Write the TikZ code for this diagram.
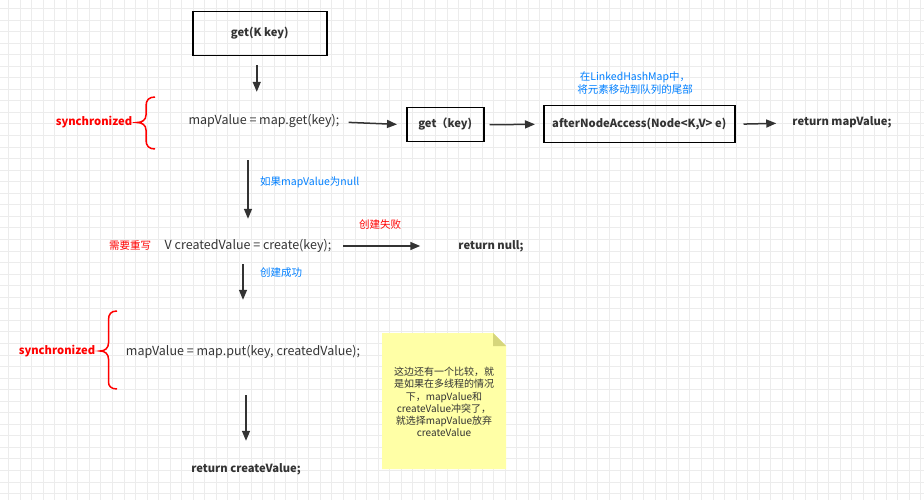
\documentclass[tikz,border=0pt]{standalone}
\usepackage{fontspec}
\setmainfont{Noto Sans CJK SC}
\usetikzlibrary{arrows.meta}
\definecolor{txtgray}{RGB}{51,51,51}
\definecolor{cmtblue}{RGB}{0,127,255}
\definecolor{syncred}{RGB}{255,0,0}
\definecolor{notefill}{RGB}{255,255,166}
\definecolor{notefold}{RGB}{214,214,124}
\definecolor{gridgray}{RGB}{236,236,236}
\begin{document}
\begin{tikzpicture}[x=1pt,y=1pt,yscale=-1,xscale=1,
  code/.style={text=txtgray,inner sep=0,text height=9pt,text depth=3pt,font=\fontsize{12.5}{15}\selectfont},
  bcode/.style={code,font=\fontsize{11.2}{14}\selectfont\bfseries},
  codebox/.style={bcode,draw=black,line width=1.5pt,anchor=north west},
  cmt/.style={text=cmtblue,inner sep=0,font=\fontsize{10.5}{13}\selectfont},
  redcmt/.style={cmt,text=syncred},
  sync/.style={text=syncred,inner sep=0,font=\fontsize{11.2}{14}\selectfont\bfseries},
  brace/.style={draw=syncred,line width=1.5pt},
  arr/.style={draw=txtgray,line width=1.5pt,-{Triangle[length=10pt,width=8pt]}}]
\path[use as bounding box] (0,0) rectangle (924,500);

%Grid
\foreach \i in {0,...,79} {\draw[gridgray,line width=1pt] (8.5+11.55*\i,0) -- (8.5+11.55*\i,500);}
\foreach \j in {0,...,43} {\draw[gridgray,line width=1pt] (0,8.5+11.55*\j) -- (924,8.5+11.55*\j);}

%Boxes
\node[codebox,minimum width=134pt,minimum height=44pt] (getkey) at (192,11) {get(K key)};
\node[codebox,minimum width=77pt,minimum height=34pt] (getbox) at (406,107) {get（key)};
\node[codebox,minimum width=191pt,minimum height=37pt] (afterbox) at (543,105) {afterNodeAccess(Node<K,V> e)};

% Text Node
\node[code] (mapget) at (264,122) {mapValue = map.get(key);};
% Text Node
\node[bcode] (retmap) at (842,123) {return mapValue;};
% Text Node
\node[code] (created) at (248,246) {V createdValue = create(key);};
% Text Node
\node[bcode] (retnull) at (491,246) {return null;};
% Text Node
\node[code] (mapput) at (243,352) {mapValue = map.put(key, createdValue);};
% Text Node
\node[bcode] (retcreate) at (246,469) {return createValue;};

% Comments
\node[cmt,align=center] (movecmt) at (635,83) {在LinkedHashMap中，\\将元素移动到队列的尾部};
\node[cmt,anchor=west] (nullcmt) at (260,182) {如果mapValue为null};
\node[redcmt] (failcmt) at (380,225) {创建失败};
\node[cmt,anchor=west] (okcmt) at (260,273) {创建成功};
\node[redcmt] (rewrite) at (130,246) {需要重写};
\node[sync] (syncget) at (94,122) {synchronized};
\node[sync] (syncput) at (57,351) {synchronized};

%Braces
\draw[brace] (155,97) .. controls (149,97) and (146,100) .. (146,106) -- (146,115) .. controls (146,120) and (142,122.5) .. (137,122.5) .. controls (142,122.5) and (146,125) .. (146,130) -- (146,140) .. controls (146,146) and (149,149) .. (155,149);
\draw[brace] (117,311) .. controls (111,311) and (108.5,314) .. (108.5,320) -- (108.5,343) .. controls (108.5,348) and (105,351) .. (100,351) .. controls (105,351) and (108.5,354) .. (108.5,359) -- (108.5,382) .. controls (108.5,386) and (111,389) .. (117,389);

%Note
\fill[notefill] (382,333) -- (493,333) -- (506,346) -- (506,469) -- (382,469) -- cycle;
\fill[notefold] (493,333) -- (506,346) -- (493,346) -- cycle;
\node[text=txtgray,align=center,inner sep=0,font=\fontsize{10}{12.3}\selectfont] (note) at (444,402) {这边还有一个比较，就\\是如果在多线程的情况\\下，mapValue和\\createValue冲突了，\\就选择mapValue放弃\\createValue};

%Arrows
\draw[arr,shorten <=9pt,shorten >=24pt] ([xshift=-3pt]getkey.south) -- ([xshift=-3pt]getkey.south |- mapget.north);
\draw[arr,shorten <=9pt,shorten >=9pt] (mapget.east) -- (getbox.west);
\draw[arr,shorten <=5pt,shorten >=8pt] (getbox.east) -- (afterbox.west);
\draw[arr,shorten <=8pt,shorten >=16pt] (afterbox.east) -- (retmap.west);
\draw[arr,shorten <=32pt,shorten >=21pt] (created.north |- mapget.south) -- (created.north);
\draw[arr,shorten <=12pt,shorten >=38pt] (created.east) -- (retnull.west);
\draw[arr,shorten <=12pt,shorten >=46pt] (mapput.north |- created.south) -- (mapput.north);
\draw[arr,shorten <=37pt,shorten >=22pt] (mapput.south -| retcreate.north) -- (retcreate.north);

\end{tikzpicture}
\end{document}
